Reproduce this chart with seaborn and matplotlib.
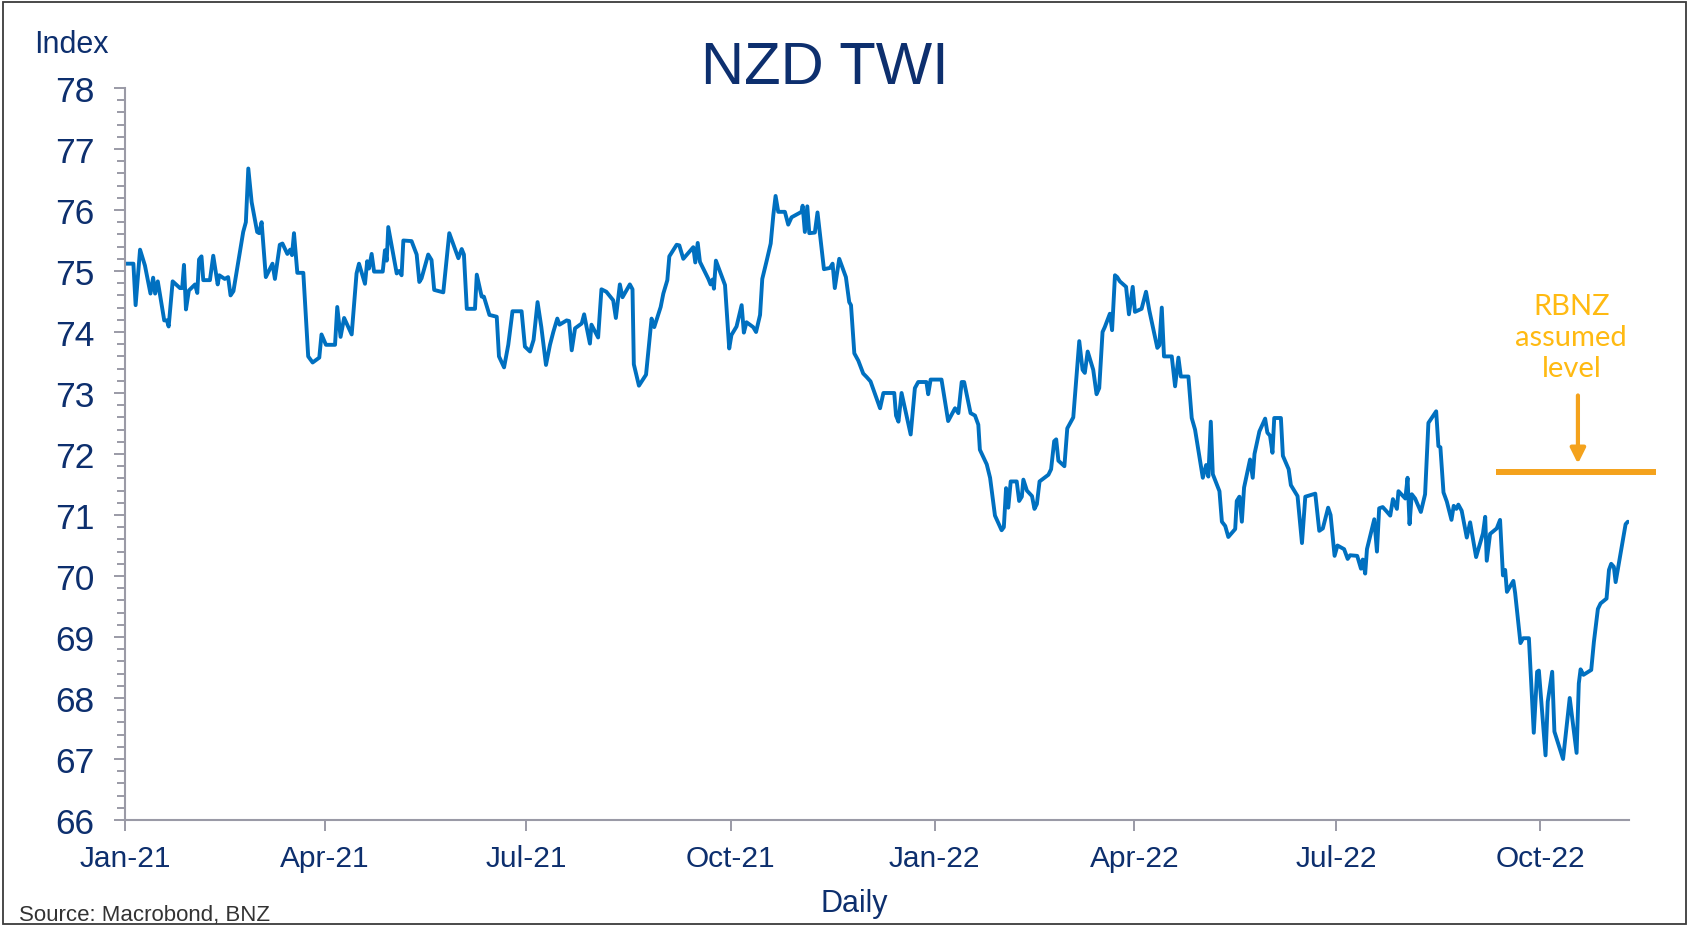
import pandas as pd
import numpy as np
import seaborn as sns
import matplotlib.pyplot as plt
import matplotlib.dates as mdates
from matplotlib.patches import Rectangle
from matplotlib.ticker import MultipleLocator


# Data (day offset counted from 1 Jan 2021)

day_offset = [
    0, 3.8, 4.8, 6.8, 9.0, 11.5, 12.7, 13.6, 14.8, 17.7, 18.9, 19.7, 21.5, 24.8, 25.8,
    26.6, 27.5, 28.8, 31.6, 32.6, 33.4, 34.5, 35.3, 38.3, 39.8, 41.8, 42.5, 45.0, 46.5,
    47.6, 48.9, 53.3, 54.5, 55.6, 57.1, 59.6, 60.5, 61.6, 63.5, 66.5, 67.6, 69.8, 71.0,
    73.2, 74.5, 75.3, 76.2, 77.7, 80.4, 82.6, 84.6, 87.6, 88.6, 90.6, 94.7, 95.7, 97.2,
    98.8, 102.2, 104.4, 105.5, 108.2, 109.2, 110.0, 111.2, 112.3, 116.2, 117.2, 118.0,
    118.7, 122.5, 123.6, 124.7, 125.5, 129.2, 131.5, 132.7, 133.7, 136.7, 138.2, 139.4,
    143.5, 146.2, 150.3, 151.8, 152.8, 154.1, 157.8, 158.6, 160.8, 161.8, 164.3, 167.6,
    168.6, 170.9, 172.8, 174.7, 178.8, 180.3, 182.6, 184.2, 186.0, 187.7, 189.8, 191.6,
    193.1, 194.9, 195.9, 199.1, 200.2, 201.4, 202.9, 205.9, 207.0, 208.0, 209.6, 210.3,
    213.3, 214.8, 217.0, 220.1, 221.3, 223.1, 224.3, 227.6, 228.8, 229.4, 231.7, 234.9,
    237.4, 238.6, 241.5, 242.7, 244.5, 245.4, 248.7, 249.9, 251.7, 256.2, 257.1, 258.2,
    259.2, 263.0, 264.0, 264.9, 265.5, 266.4, 270.5, 272.4, 273.4, 275.7, 278.0, 279.0,
    280.2, 283.2, 284.5, 286.3, 287.3, 289.3, 291.1, 292.3, 293.3, 294.5, 297.5, 299.0,
    300.5, 305.0, 305.5, 306.5, 307.6, 308.5, 311.0, 312.2, 315.1, 317.8, 319.0, 320.0,
    322.0, 325.0, 326.5, 327.3, 328.8, 330.6, 332.8, 334.4, 336.1, 340.4, 341.9, 343.6,
    346.8, 347.6, 348.7, 350.1, 354.2, 356.1, 357.6, 361.3, 362.1, 363.2, 368.1, 371.1,
    374.2, 375.7, 377.2, 378.3, 381.2, 383.2, 384.7, 385.4, 388.5, 390.0, 392.2, 395.2,
    396.2, 397.2, 398.2, 399.3, 402.0, 403.1, 404.3, 405.0, 406.6, 408.9, 410.0, 411.1,
    412.3, 416.3, 417.5, 418.9, 419.8, 420.8, 423.5, 424.8, 427.5, 430.2, 431.7, 432.7,
    434.0, 436.5, 438.0, 439.2, 440.7, 441.7, 444.0, 445.0, 446.3, 447.3, 448.5, 451.3,
    452.6, 454.3, 455.3, 458.3, 460.3, 461.8, 465.4, 466.3, 467.4, 468.4, 471.9, 473.4,
    474.9, 476.0, 479.4, 480.9, 482.4, 485.9, 487.4, 488.4, 489.5, 490.4, 493.4, 494.5,
    496.0, 497.4, 500.5, 501.2, 502.4, 503.5, 504.5, 507.2, 508.4, 509.2, 511.4, 514.0,
    515.0, 516.2, 517.3, 518.1, 521.1, 522.0, 524.6, 525.6, 528.6, 530.6, 532.1, 536.6,
    538.4, 540.0, 542.4, 543.5, 545.3, 546.6, 549.6, 551.2, 552.3, 555.5, 557.2, 558.0,
    559.1, 559.9, 563.2, 564.4, 565.4, 567.0, 568.5, 570.4, 571.6, 573.4, 574.1, 577.2,
    578.2, 579.1, 580.1, 581.6, 584.2, 586.1, 587.6, 591.1, 592.1, 593.0, 594.4, 595.9,
    598.0, 599.0, 600.2, 601.1, 602.6, 604.9, 606.4, 609.1, 612.2, 613.2, 613.9, 615.4,
    618.4, 619.9, 621.2, 622.2, 623.0, 625.9, 626.7, 629.1, 630.3, 632.9, 635.1, 636.6,
    637.4, 640.4, 641.4, 643.4, 644.4, 648.3, 651.3, 654.4, 655.4, 656.2, 657.5, 661.0,
    662.2, 664.0, 665.2, 667.9, 669.0, 670.0, 671.2, 672.0, 676.5, 677.5,
]

twi = [
    75.12, 75.12, 74.44, 75.35, 75.09, 74.63, 74.89, 74.63, 74.83, 74.19, 74.19, 74.09, 74.83, 74.72, 74.72,
    75.10, 74.37, 74.68, 74.78, 74.64, 75.19, 75.24, 74.85, 74.85, 75.25, 74.78, 74.93, 74.87, 74.90,
    74.60, 74.67, 75.64, 75.80, 76.68, 76.13, 75.64, 75.62, 75.80, 74.90, 75.12, 74.87, 75.43, 75.45,
    75.28, 75.35, 75.26, 75.62, 74.97, 74.97, 73.60, 73.50, 73.58, 73.96, 73.79, 73.79, 74.41, 73.92,
    74.23, 73.96, 74.96, 75.12, 74.79, 75.16, 75.04, 75.28, 74.99, 74.99, 75.34, 75.17,
    75.72, 74.96, 75.00, 74.93, 75.50, 75.49, 75.27, 74.82, 74.88, 75.27, 75.18, 74.69,
    74.65, 75.62, 75.21, 75.36, 75.27, 74.38, 74.38, 74.94, 74.58, 74.58, 74.28, 74.25,
    73.60, 73.42, 73.79, 74.34, 74.34, 73.76, 73.68, 73.87, 74.49, 74.08, 73.46, 73.79,
    74.00, 74.22, 74.12, 74.19, 74.18, 73.70, 74.06, 74.14, 74.29, 74.10, 73.81, 74.12,
    73.91, 74.70, 74.66, 74.52, 74.23, 74.78, 74.57, 74.78, 74.70, 73.47, 73.12, 73.30,
    74.22, 74.08, 74.41, 74.63, 74.85, 75.24, 75.43, 75.42, 75.20, 75.39, 75.14, 75.46,
    75.15, 74.87, 74.78, 74.86, 74.71, 75.17, 74.77, 73.73, 73.95, 74.09, 74.44, 73.99,
    74.16, 74.08, 74.00, 74.28, 74.87, 75.17, 75.45, 75.92, 76.23, 75.97, 75.97, 75.76,
    75.88, 75.97, 76.07, 75.64, 76.06, 75.62, 75.63, 75.96, 75.03, 75.05, 75.12, 74.72,
    75.20, 74.90, 74.49, 74.44, 73.65, 73.53, 73.32, 73.26, 73.19, 72.75, 73.00, 73.00,
    73.00, 72.63, 72.53, 73.00, 72.32, 73.08, 73.18, 73.18, 72.98, 73.22, 73.22, 72.54,
    72.75, 72.67, 73.18, 73.18, 72.67, 72.63, 72.48, 72.07, 71.83, 71.61, 70.99, 70.75,
    70.80, 71.44, 71.12, 71.55, 71.55, 71.23, 71.30, 71.58, 71.40, 71.31, 71.10, 71.18,
    71.55, 71.66, 71.75, 72.21, 72.24, 71.89, 71.80, 72.42, 72.60, 73.85, 73.38, 73.33,
    73.68, 73.38, 72.98, 73.08, 74.00, 74.08, 74.30, 74.03, 74.93, 74.90, 74.83, 74.74,
    74.29, 74.74, 74.33, 74.38, 74.66, 74.35, 73.74, 73.78, 74.40, 73.60, 73.60, 73.11,
    73.58, 73.27, 73.27, 72.59, 72.40, 71.61, 71.82, 71.63, 72.53, 71.67, 71.39, 70.89,
    70.82, 70.64, 70.77, 71.23, 71.30, 70.89, 71.45, 71.91, 71.61, 72.00, 72.37, 72.58,
    72.35, 72.30, 72.02, 72.59, 72.59, 71.97, 71.75, 71.49, 71.31, 70.54, 71.30, 71.35,
    70.74, 70.78, 71.12, 71.00, 70.33, 70.50, 70.44, 70.28, 70.34, 70.33, 70.12, 70.27,
    70.04, 70.44, 70.93, 70.40, 71.11, 71.13, 71.07, 70.99, 71.26, 71.10, 71.39, 71.27,
    71.61, 70.85, 71.34, 71.27, 71.05, 71.34, 72.51, 72.70, 72.13, 72.11, 71.37, 71.22,
    70.92, 71.15, 71.10, 71.17, 71.07, 70.63, 70.88, 70.31, 70.70, 70.97, 70.25, 70.69,
    70.78, 70.92, 70.01, 70.10, 69.74, 69.92, 69.72, 68.90, 68.98, 68.98, 67.43, 68.43,
    68.45, 67.06, 67.94, 68.43, 67.45, 67.00, 68.00, 67.10, 68.24, 68.47, 68.38, 68.46,
    68.92, 69.46, 69.55, 69.63, 70.10, 70.20, 70.15, 69.90, 70.85, 70.89,
]

start_date = "2021-01-01"
end_date = "2022-11-10"
quarter_ticks = ["2021-01-01", "2021-04-01", "2021-07-01", "2021-10-01",
                 "2022-01-01", "2022-04-01", "2022-07-01", "2022-10-01"]

rbnz_level = 71.7
rbnz_span = ["2022-09-11", "2022-11-22"]
arrow_date = "2022-10-18"
arrow_top = 72.96
label_date = "2022-10-15"
label_value = 73.92

df = pd.DataFrame({
    "date": pd.Timestamp(start_date) + pd.to_timedelta(day_offset, unit="D"),
    "twi": twi,
})

# Style

sns.set_style("white")
plt.rcParams["font.family"] = ["Liberation Sans", "DejaVu Sans"]

navy = "#0D2F6E"
grey = "#9A9AA6"
blue = "#0070C0"
orange = "#F4A21C"
gold = "#FFBA12"

fig = plt.figure(figsize=(16.91, 9.28), dpi=100)
ax = fig.add_axes([0.0739, 0.1153, 0.8894, 0.7888])

sns.lineplot(data=df, x="date", y="twi", ax=ax, color=blue, linewidth=2.8)

ax.set_xlim(pd.Timestamp(start_date), pd.Timestamp(end_date))
ax.set_ylim(66, 78)
ax.set_xlabel("")
ax.set_ylabel("")

ax.yaxis.set_major_locator(MultipleLocator(1))
ax.yaxis.set_minor_locator(MultipleLocator(0.2))
ax.set_xticks(pd.to_datetime(quarter_ticks))
ax.xaxis.set_major_formatter(mdates.DateFormatter("%b-%y"))

for side in ["top", "right"]:
    ax.spines[side].set_visible(False)
for side in ["left", "bottom"]:
    ax.spines[side].set_color(grey)
    ax.spines[side].set_linewidth(1.5)

ax.tick_params(axis="y", which="major", direction="out", length=8, width=1.4,
               color=grey, pad=14, labelsize=25.5, labelcolor=navy, left=True)
ax.tick_params(axis="y", which="minor", direction="out", length=5.5, width=1.4,
               color=grey, left=True)
ax.tick_params(axis="x", which="major", direction="out", length=8, width=1.4,
               color=grey, pad=9, labelsize=21.5, labelcolor=navy, bottom=True)

# RBNZ assumed level annotation

ax.plot(pd.to_datetime(rbnz_span), [rbnz_level, rbnz_level], color=orange,
        linewidth=4.3, solid_capstyle="butt", clip_on=False)
ax.annotate("", xy=(pd.Timestamp(arrow_date), rbnz_level + 0.14),
            xytext=(pd.Timestamp(arrow_date), arrow_top),
            arrowprops=dict(arrowstyle="-|>,head_length=0.9,head_width=0.45",
                            color=orange, lw=3, shrinkA=0, shrinkB=0))
ax.text(pd.Timestamp(label_date), label_value, "RBNZ\nassumed\nlevel",
        ha="center", va="center", fontsize=21, color=gold,
        family=["Lato", "DejaVu Sans"], linespacing=1.25)

# Titles and notes

fig.text(0.488, 0.926, "NZD TWI", ha="center", va="center", fontsize=43, color=navy)
fig.text(0.020, 0.952, "Index", ha="left", va="center", fontsize=22, color=navy)
fig.text(0.505, 0.026, "Daily", ha="center", va="center", fontsize=22, color=navy)
fig.text(0.0115, 0.014, "Source: Macrobond, BNZ", ha="left", va="center",
         fontsize=16, color="#333333")

fig.patches.append(Rectangle((0.002, 0.003), 0.995, 0.994, transform=fig.transFigure,
                             fill=False, edgecolor="#3C3C3C", linewidth=1.3))

fig.savefig("out.png", dpi=100)
